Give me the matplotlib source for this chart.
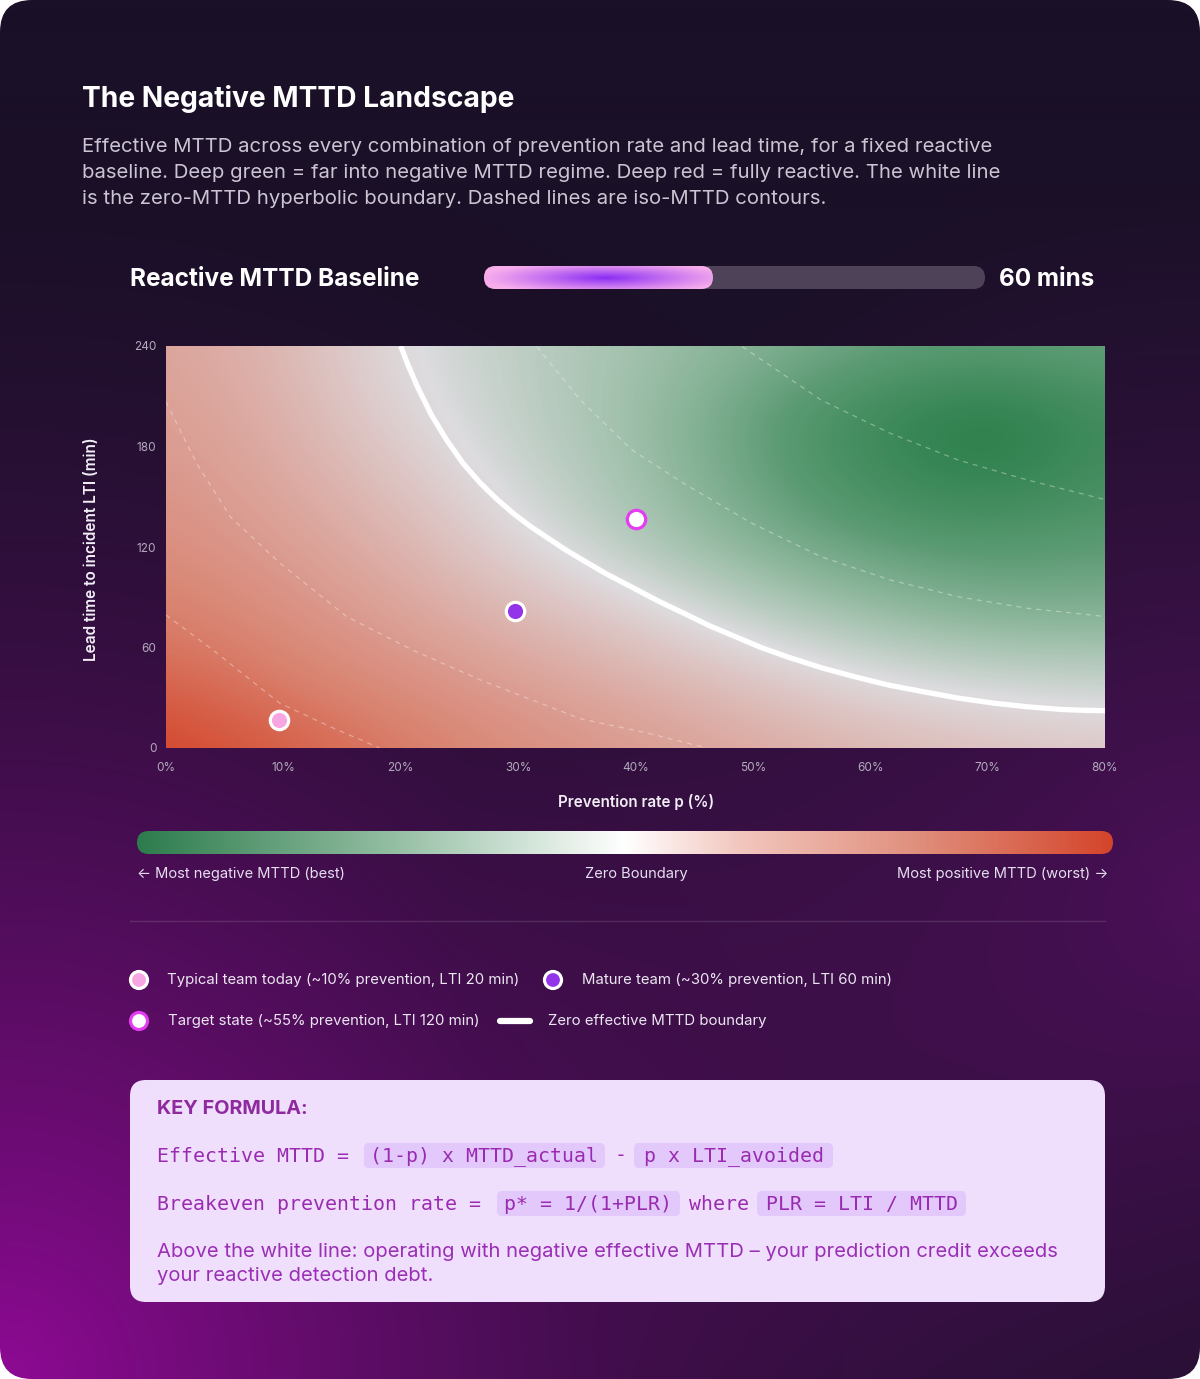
import numpy as np
import matplotlib
matplotlib.use('Agg')
import matplotlib.pyplot as plt
from matplotlib.colors import LinearSegmentedColormap, to_rgb
from matplotlib.patches import FancyBboxPatch, Circle

W, H = 1200, 1379
plt.rcParams['font.family'] = ['Inter', 'DejaVu Sans']

# ---- data ----
prevention = [0, 10, 20, 30, 40, 50, 60, 70, 80]      # %
lead_time = [0, 40, 80, 120, 160, 200, 240]            # min
# colour of the landscape, -1 = deep green (most negative), +1 = deep red
mttd_field = [
    [1.00, 0.88, 0.75, 0.62, 0.52, 0.42, 0.32, 0.24, 0.18],
    [0.85, 0.72, 0.60, 0.48, 0.36, 0.20, 0.02, -0.08, -0.12],
    [0.72, 0.60, 0.46, 0.30, 0.10, -0.15, -0.32, -0.42, -0.42],
    [0.62, 0.50, 0.34, 0.06, -0.20, -0.40, -0.55, -0.62, -0.58],
    [0.55, 0.42, 0.20, -0.08, -0.28, -0.52, -0.78, -0.92, -0.74],
    [0.50, 0.36, 0.06, -0.14, -0.30, -0.54, -0.82, -1.00, -0.78],
    [0.45, 0.30, 0.00, -0.15, -0.27, -0.40, -0.52, -0.58, -0.52],
]

# zero effective MTTD boundary
boundary_p = [20.0, 20.6, 21.4, 22.6, 23.9, 25.3, 26.8, 28.2, 29.6, 31.0, 32.5, 34.0, 35.3,
              37.5, 39.7, 42.0, 44.1, 46.3, 48.5, 50.7, 52.9, 55.8, 58.7, 61.6, 64.6,
              67.5, 70.5, 73.4, 76.3, 78.2, 80.0]
boundary_lti = [240, 229, 216, 199, 184, 170, 158, 148.5, 140, 132.5, 125.5, 118.5, 113,
                104, 96, 87.5, 80.5, 73, 66.5, 60, 54.5, 48, 42.5, 37.5, 33.5,
                29.8, 26.8, 24.6, 23.0, 22.5, 22.3]

# iso-MTTD contours
contours = [
    ([0.0, 4.0, 9.7, 14.0, 18.2], [79.4, 58.5, 26.7, 12.7, 0]),
    ([0.0, 2.6, 5.5, 9.7, 15.4, 21.0, 26.8, 35.3, 41.1, 46.1],
     [206.7, 170.0, 137.9, 110.4, 78.4, 58.5, 40.6, 17.5, 8.8, 0]),
    ([31.6, 35.3, 39.7, 44.1, 49.9, 55.8, 61.7, 67.5, 73.4, 80.0],
     [239.6, 207.8, 177.9, 158.0, 134.2, 114.2, 100.3, 90.3, 83.4, 78.5]),
    ([49.1, 55.8, 61.7, 67.5, 73.4, 80.0], [239.6, 207.8, 187.9, 171.9, 160.0, 148.3]),
]

team_labels = ['Typical team today (~10% prevention, LTI 20 min)',
               'Mature team (~30% prevention, LTI 60 min)',
               'Target state (~55% prevention, LTI 120 min)']
team_p = [9.6, 29.7, 40.0]
team_lti = [16.7, 81.8, 137.0]
team_fill = ['#f8a6e2', '#9333ea', '#ffffff']
team_edge = ['#ffffff', '#ffffff', '#e43cf0']

x_ticks = [0, 10, 20, 30, 40, 50, 60, 70, 80]
y_ticks = [0, 60, 120, 180, 240]
baseline_mins = 60

fig = plt.figure(figsize=(W / 100, H / 100), dpi=100, facecolor='white')
bg = fig.add_axes([0, 0, 1, 1])
bg.axis('off')
renderer = fig.canvas.get_renderer()


def fit_text(x, y, s, width, size=10, rotation=0, **kw):
    # scale font so the text spans the width measured on the reference
    t = bg.text(x, y, s, fontsize=size, rotation=rotation, **kw)
    bb = t.get_window_extent(renderer)
    span = bb.height if rotation else bb.width
    t.set_fontsize(size * width / span)
    return t


# card background
gy, gx = np.mgrid[0:H:4, 0:W:4]
base = np.array(to_rgb('#1a1027'))
g1 = np.clip(1 - np.hypot(gx, gy - H) / 1250, 0, 1) ** 1.6
g2 = np.clip(1 - np.hypot(gx - W, gy - 900) / 750, 0, 1) ** 1.2
img = base + g1[..., None] * (np.array(to_rgb('#8e0a94')) - base) \
    + g2[..., None] * (np.array(to_rgb('#4c1058')) - base)
card = FancyBboxPatch((0, 0), W, H, boxstyle='round,pad=0,rounding_size=32',
                      fc='none', ec='none')
bg.add_patch(card)
im = bg.imshow(np.clip(img, 0, 1), extent=(0, W, H, 0), aspect='auto', interpolation='bilinear')
im.set_clip_path(card)

# title + subtitle
fit_text(82, 107, 'The Negative MTTD Landscape', 433, color='white', weight='bold')
sub = fit_text(82, 152, 'Effective MTTD across every combination of prevention rate and lead time, for a fixed reactive',
               913, color='#cbc4d2')
bg.text(82, 178, 'baseline. Deep green = far into negative MTTD regime. Deep red = fully reactive. The white line',
        fontsize=sub.get_fontsize(), color='#cbc4d2')
bg.text(82, 204, 'is the zero-MTTD hyperbolic boundary. Dashed lines are iso-MTTD contours.',
        fontsize=sub.get_fontsize(), color='#cbc4d2')

# baseline slider
fit_text(130, 286, 'Reactive MTTD Baseline', 289, color='white', weight='bold')
fit_text(999, 286, f'{baseline_mins} mins', 95, color='white', weight='bold')
track = FancyBboxPatch((484, 266), 501, 23, boxstyle='round,pad=0,rounding_size=11.5',
                       fc='#4d4258', ec='none')
bg.add_patch(track)
fill = FancyBboxPatch((484, 266), 229, 23, boxstyle='round,pad=0,rounding_size=11.5',
                      fc='none', ec='none')
bg.add_patch(fill)
sy, sx = np.mgrid[266:289:0.5, 484:713:1]
glow = np.clip(1 - np.hypot((sx - 605) / 125, (sy - 277.5) / 16), 0, 1) ** 1.1
pink, purple = np.array(to_rgb('#f9aeec')), np.array(to_rgb('#8a2cf5'))
simg = pink + glow[..., None] * (purple - pink)
sim = bg.imshow(simg, extent=(484, 713, 289, 266), aspect='auto', interpolation='bilinear', zorder=3)
sim.set_clip_path(fill)

# landscape heat map
ax = fig.add_axes([166 / W, 1 - 748 / H, 939 / W, 402 / H])
ax.patch.set_alpha(0)
heat_cmap = LinearSegmentedColormap.from_list('heat', [
    (0.0, '#237a44'), (0.2, '#5a9a72'), (0.35, '#9dbfa9'), (0.5, '#dedcdf'),
    (0.7, '#dcaaa3'), (0.85, '#d9826f'), (1.0, '#d4442a')])
ax.imshow(mttd_field, origin='lower', aspect='auto', interpolation='bicubic', cmap=heat_cmap,
          vmin=-1, vmax=1, extent=[prevention[0] - 5, prevention[-1] + 5, lead_time[0] - 20, lead_time[-1] + 20])
for cp, cl in contours:
    ax.plot(cp, cl, color=(1, 1, 1, 0.35), lw=0.9, dashes=(4, 4))
ax.plot(boundary_p, boundary_lti, color='white', lw=3.8, solid_joinstyle='round', solid_capstyle='butt')
for p, l, fc, ec in zip(team_p, team_lti, team_fill, team_edge):
    ax.scatter(p, l, s=175, c=fc, edgecolors=ec, linewidths=2.3, zorder=5, clip_on=False)
ax.set_xlim(0, 80)
ax.set_ylim(0, 240)
ax.set_xticks(x_ticks, [f'{v}%' for v in x_ticks])
ax.set_yticks(y_ticks, [str(v) for v in y_ticks])
ax.tick_params(length=0, labelsize=8.5, labelcolor='#b3abbd')
ax.tick_params(axis='x', pad=10)
ax.tick_params(axis='y', pad=7)
for s in ax.spines.values():
    s.set_visible(False)

fit_text(92, 549, 'Lead time to incident LTI (min)', 224, rotation=90, color='#f2eef6',
         weight='semibold', ha='center', va='center')
fit_text(636, 802, 'Prevention rate p (%)', 156, color='#f2eef6', weight='semibold',
         ha='center', va='center')

# colour scale bar
bar_cmap = LinearSegmentedColormap.from_list('bar', [
    (0.0, '#2d7c4e'), (0.25, '#8fbb9e'), (0.5, '#ffffff'), (0.62, '#f2c6be'),
    (0.8, '#e08f7d'), (1.0, '#d4452b')])
bar = FancyBboxPatch((137, 831), 976, 23, boxstyle='round,pad=0,rounding_size=11.5',
                     fc='none', ec='none')
bg.add_patch(bar)
bim = bg.imshow(np.linspace(0, 1, 512)[None, :], cmap=bar_cmap, extent=(137, 1113, 854, 831),
                aspect='auto', interpolation='bilinear', zorder=3)
bim.set_clip_path(bar)
lab = fit_text(137, 874, '← Most negative MTTD (best)', 209, color='#e6def0', va='center')
bg.text(636, 874, 'Zero Boundary', fontsize=lab.get_fontsize(), color='#e6def0', ha='center', va='center')
bg.text(1108, 874, 'Most positive MTTD (worst) →', fontsize=lab.get_fontsize(), color='#e6def0',
        ha='right', va='center')

bg.plot([130, 1105], [921, 921], color=(1, 1, 1, 0.12), lw=1)

# legend
leg_pos = [(139, 980), (553, 980), (139, 1021)]
leg = None
for (lx, ly), text, fc, ec in zip(leg_pos, team_labels, team_fill, team_edge):
    bg.add_patch(Circle((lx, ly), 8.5, fc=fc, ec=ec, lw=2.3))
    if leg is None:
        leg = fit_text(lx + 28, ly, text, 354, color='#ece6f2', va='center')
    else:
        bg.text(lx + 29, ly, text, fontsize=leg.get_fontsize(), color='#ece6f2', va='center')
bg.plot([500, 530], [1021, 1021], color='white', lw=4.5, solid_capstyle='round')
bg.text(548, 1021, 'Zero effective MTTD boundary', fontsize=leg.get_fontsize(), color='#ece6f2', va='center')

# formula box
bg.add_patch(FancyBboxPatch((130, 1080), 975, 222, boxstyle='round,pad=0,rounding_size=16',
                            fc='#efdffc', ec='none'))
fit_text(157, 1114, 'KEY FORMULA:', 151, color='#8e2a9e', weight='bold')
for x0, y0, w0 in [(364, 1143, 241), (634, 1143, 199), (497, 1191, 183), (757, 1191, 209)]:
    bg.add_patch(FancyBboxPatch((x0, y0), w0, 25, boxstyle='round,pad=0,rounding_size=5',
                                fc='#e2c8fb', ec='none'))
mono = dict(family='DejaVu Sans Mono', fontsize=14.3, color='#9a2bb0', va='center')
bg.text(157, 1156, 'Effective MTTD =', **mono)
bg.text(484.5, 1156, '(1-p) x MTTD_actual', ha='center', **mono)
bg.text(620, 1156, '-', ha='center', **mono)
bg.text(733.5, 1156, 'p x LTI_avoided', ha='center', **mono)
bg.text(157, 1204, 'Breakeven prevention rate =', **mono)
bg.text(588.5, 1204, 'p* = 1/(1+PLR)', ha='center', **mono)
bg.text(719, 1204, 'where', ha='center', **mono)
bg.text(861.5, 1204, 'PLR = LTI / MTTD', ha='center', **mono)
para = fit_text(157, 1252, 'Above the white line: operating with negative effective MTTD – your prediction credit exceeds',
                904, color='#9a2fb5', va='center')
bg.text(157, 1276, 'your reactive detection debt.', fontsize=para.get_fontsize(), color='#9a2fb5', va='center')

bg.set_xlim(0, W)
bg.set_ylim(H, 0)
fig.savefig('out.png', dpi=100, facecolor='white')
